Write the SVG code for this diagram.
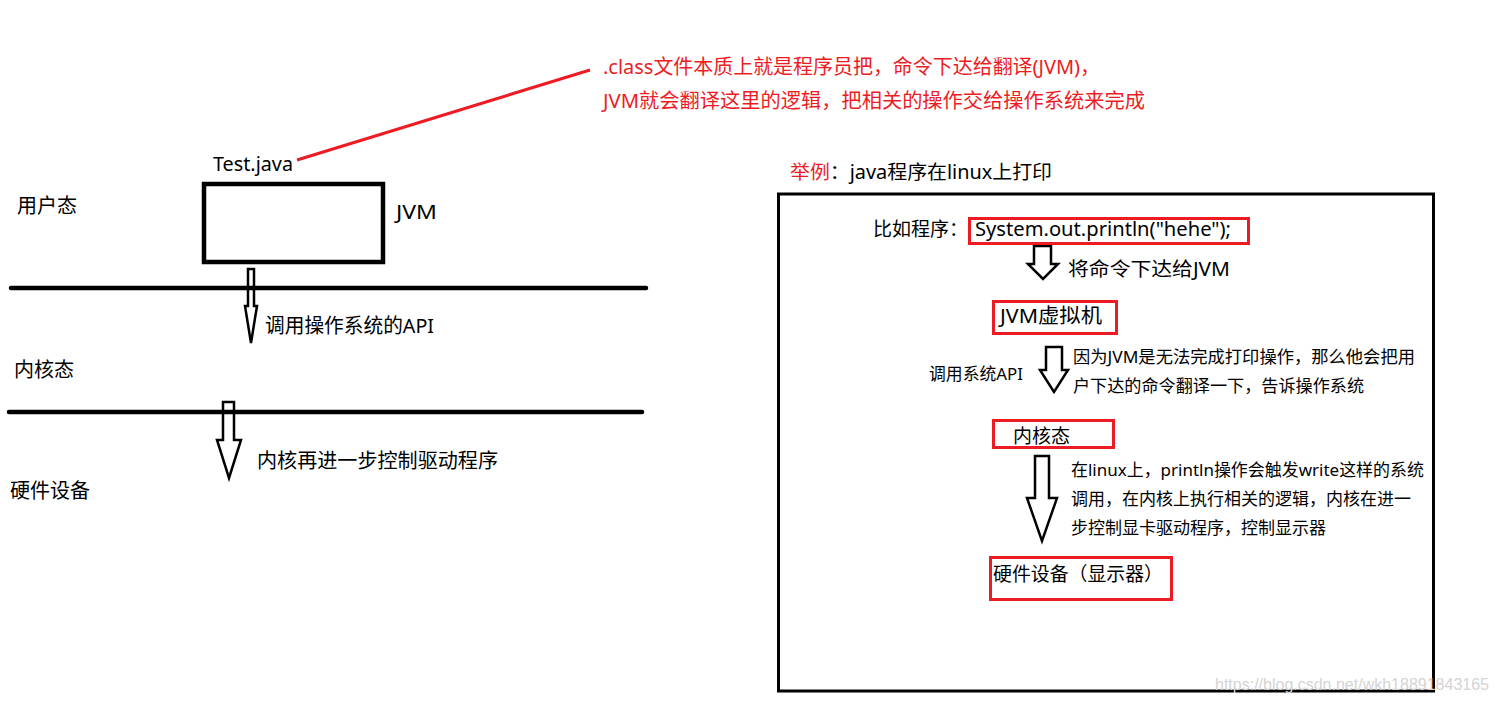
<svg xmlns="http://www.w3.org/2000/svg" width="1498" height="702" viewBox="0 0 1498 702">
<style>
text{font-family:"Noto Sans","Noto Sans CJK SC",sans-serif;fill:#000}
.t20{font-size:20px}
.t19{font-size:19px}
.t17{font-size:17px}
.red{fill:#ed1c24}
.rbox{fill:none;stroke:#ed1c24;stroke-width:3}
.barrow{fill:#fff;stroke:#000;stroke-width:2.5;stroke-linejoin:miter}
.layer{stroke:#000;stroke-width:4.5;stroke-linecap:round}
.wm{font-family:"Liberation Sans",Arial,sans-serif;font-size:17px;fill:#d4d4d4}
</style>
<rect width="1498" height="702" fill="#fff"/>

<g id="connectors">
  <line x1="297" y1="160" x2="590" y2="70" stroke="#ed1c24" stroke-width="3"/>
  <polygon class="barrow" points="248,269 254,269 254,306 257,306 251,343 245,306 248,306"/>
  <polygon class="barrow" points="223,402 234,402 234,440 241,440 229,478 217,440 223,440"/>
  <line class="layer" x1="11" y1="288" x2="646" y2="288"/>
  <line class="layer" x1="9" y1="412" x2="642" y2="412"/>
  <polygon class="barrow" points="1034,246 1051,246 1051,264 1058,264 1043,279 1028,264 1034,264"/>
  <polygon class="barrow" points="1046,347 1062,347 1062,370 1068,370 1054,392 1040,370 1046,370"/>
  <polygon class="barrow" points="1035,456 1049,456 1049,498 1057,498 1042,541 1027,498 1035,498"/>
</g>

<g id="note">
  <text class="t20 red" x="603" y="74" textLength="497" lengthAdjust="spacingAndGlyphs">.class文件本质上就是程序员把，命令下达给翻译(JVM)，</text>
  <text class="t20 red" x="603" y="108" textLength="542" lengthAdjust="spacingAndGlyphs">JVM就会翻译这里的逻辑，把相关的操作交给操作系统来完成</text>
</g>

<g id="test-java">
  <text class="t20" x="213" y="171" textLength="80" lengthAdjust="spacingAndGlyphs">Test.java</text>
</g>

<g id="jvm-box">
  <rect x="204" y="184" width="179" height="78" fill="none" stroke="#000" stroke-width="4.5"/>
  <text class="t20" x="396" y="219" textLength="41" lengthAdjust="spacingAndGlyphs">JVM</text>
</g>

<g id="user-mode"><text class="t20" x="17" y="213">用户态</text></g>
<g id="call-api"><text class="t20" x="265" y="333" textLength="169" lengthAdjust="spacingAndGlyphs">调用操作系统的API</text></g>
<g id="kernel-mode"><text class="t20" x="14" y="377">内核态</text></g>
<g id="kernel-driver"><text class="t20" x="257" y="468" textLength="241" lengthAdjust="spacingAndGlyphs">内核再进一步控制驱动程序</text></g>
<g id="hardware"><text class="t20" x="10" y="498">硬件设备</text></g>

<g id="example-title">
  <text class="t19" x="790" y="179" textLength="262" lengthAdjust="spacingAndGlyphs"><tspan class="red">举例</tspan>：java程序在linux上打印</text>
</g>

<g id="example-panel">
  <rect x="778.5" y="194" width="655" height="497" fill="none" stroke="#000" stroke-width="3"/>
</g>

<g id="program">
  <text class="t19" x="873" y="236">比如程序：</text>
  <rect class="rbox" x="969.5" y="218.5" width="279" height="25"/>
  <text class="t19" x="975" y="236" textLength="256" lengthAdjust="spacingAndGlyphs">System.out.println("hehe");</text>
</g>

<g id="to-jvm-label"><text class="t19" x="1068" y="276" textLength="162" lengthAdjust="spacingAndGlyphs">将命令下达给JVM</text></g>

<g id="jvm-vm">
  <rect class="rbox" x="993.5" y="301.5" width="123" height="32"/>
  <text class="t20" x="1000" y="323" textLength="102" lengthAdjust="spacingAndGlyphs">JVM虚拟机</text>
</g>

<g id="call-sys-api"><text class="t17" x="929" y="380" textLength="94" lengthAdjust="spacingAndGlyphs">调用系统API</text></g>
<g id="jvm-note">
  <text class="t17" x="1073" y="363" textLength="342" lengthAdjust="spacingAndGlyphs">因为JVM是无法完成打印操作，那么他会把用</text>
  <text class="t17" x="1073" y="392" textLength="291" lengthAdjust="spacingAndGlyphs">户下达的命令翻译一下，告诉操作系统</text>
</g>

<g id="kernel-box">
  <rect class="rbox" x="993.5" y="420.5" width="120" height="27"/>
  <text class="t19" x="1013" y="443">内核态</text>
</g>

<g id="kernel-note">
  <text class="t17" x="1071" y="476" textLength="353" lengthAdjust="spacingAndGlyphs">在linux上，println操作会触发write这样的系统</text>
  <text class="t17" x="1071" y="505" textLength="340" lengthAdjust="spacingAndGlyphs">调用，在内核上执行相关的逻辑，内核在进一</text>
  <text class="t17" x="1071" y="534" textLength="255" lengthAdjust="spacingAndGlyphs">步控制显卡驱动程序，控制显示器</text>
</g>

<g id="hardware-box">
  <rect class="rbox" x="990.5" y="557.5" width="181" height="42"/>
  <text class="t19" x="993" y="581" textLength="170" lengthAdjust="spacingAndGlyphs">硬件设备（显示器）</text>
</g>

<g id="watermark"><text class="wm" x="1215" y="690" textLength="274" lengthAdjust="spacingAndGlyphs">https://blog.csdn.net/wkh18891843165</text></g>
</svg>
